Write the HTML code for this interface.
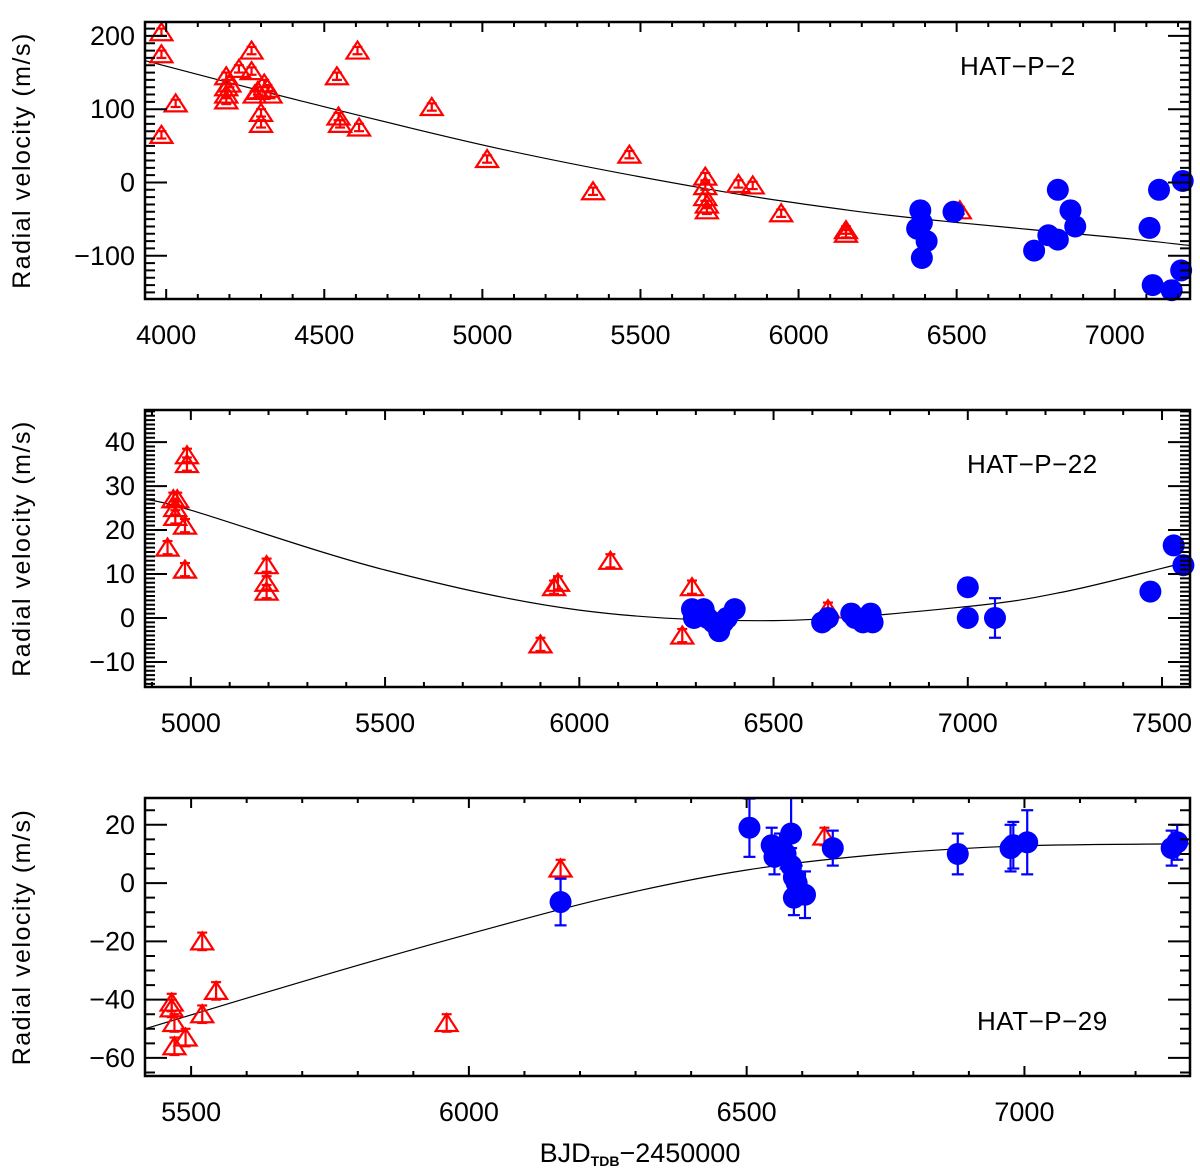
<!DOCTYPE html>
<html><head><meta charset="utf-8">
<style>
html,body{margin:0;padding:0;background:#fff;}
svg{display:block;font-family:"Liberation Sans",sans-serif;}
</style></head>
<body>
<svg id="fig" width="1200" height="1171" viewBox="0 0 1200 1171" xmlns="http://www.w3.org/2000/svg"></svg>
<script>
// ---------- Panel 1: HAT-P-2 ----------
const p1RedX=[3985,3985,3985,4030,4190,4190,4190,4190,4200,4230,4270,4270,4280,4290,4300,4300,4310,4320,4330,4540,4545,4550,4605,4610,4840,5015,5350,5465,5705,5705,5705,5710,5710,5810,5855,5945,6150,6150,6510];
const p1RedY=[205,175,65,108,145,130,120,112,135,155,180,152,120,125,80,95,135,128,120,145,90,80,180,75,103,32,-12,38,8,-5,-20,-30,-38,-2,-4,-42,-65,-70,-38];
const p1BlueX=[6375,6385,6390,6390,6405,6490,6745,6790,6820,6820,6860,6875,7110,7120,7140,7180,7210,7215];
const p1BlueY=[-63,-38,-55,-103,-80,-40,-93,-72,-10,-78,-38,-60,-62,-140,-10,-147,-120,2];
const p1ModelX=[3935,4420,5055,5700,6160,6510,7000,7238];
const p1ModelY=[166,112,46,-8,-38,-55,-75,-86];
const p1XTicks=[4000,4500,5000,5500,6000,6500,7000];
const p1YTicks=[-100,0,100,200];

// ---------- Panel 2: HAT-P-22 ----------
const p2RedX=[4940,4955,4960,4960,4965,4990,4990,4985,4985,5195,5195,5195,5900,5935,5945,6080,6265,6290,6640];
const p2RedY=[16,27,25,23,27,37,35,21,11,12,8,6,-6,7,8,13,-4,7,2];
const p2BlueX=[6290,6295,6310,6320,6330,6345,6360,6370,6380,6400,6625,6640,6700,6710,6730,6740,6750,6755,7000,7000,7070,7470,7530,7555];
const p2BlueY=[2,0,1,2,0,-1,-3,-1,0,2,-1,0,1,0,-1,0,1,-1,7,0,0,6,16.5,12];
const p2BlueErr=[0,0,0,0,0,0,0,0,0,0,0,0,0,0,0,0,0,0,0,0,4.5,0,0,0];
const p2ModelX=[4882,5000,5500,6000,6500,7000,7250,7500,7572];
const p2ModelY=[27,24.5,10.9,1.8,-0.6,2.6,6,11.3,13];
const p2XTicks=[5000,5500,6000,6500,7000,7500];
const p2YTicks=[-10,0,10,20,30,40];

// ---------- Panel 3: HAT-P-29 ----------
const p3RedX=[5465,5465,5470,5470,5490,5520,5520,5545,5960,6165,6640];
const p3RedY=[-41,-43,-48,-56,-53,-20,-45,-37,-48,5,16];
const p3BlueX=[6165,6505,6545,6550,6560,6570,6580,6580,6585,6585,6590,6605,6655,6880,6975,6980,7005,7265,7275];
const p3BlueY=[-6.5,19,13,9,12,10,17,6,2,-5,0,-4,12,10,12,13,14,12,14];
const p3BlueErr=[8,10,6,6,5,5,13,6,6,6,6,8,6,7,8,8,11,6,6];
const p3ModelX=[5417,5750,6000,6250,6500,6750,7000,7298];
const p3ModelY=[-50,-31,-17.5,-5,4.5,10,12.8,13.5];
const p3XTicks=[5500,6000,6500,7000];
const p3YTicks=[-60,-40,-20,0,20];

const svg=document.getElementById('fig');
const NS='http://www.w3.org/2000/svg';
function mk(tag,attrs,parent){const e=document.createElementNS(NS,tag);for(const k in attrs)e.setAttribute(k,attrs[k]);(parent||svg).appendChild(e);return e;}

function smoothPath(P){
  let d='M'+P[0][0].toFixed(1)+','+P[0][1].toFixed(1);
  for(let i=0;i<P.length-1;i++){
    const p0=P[Math.max(0,i-1)],p1=P[i],p2=P[i+1],p3=P[Math.min(P.length-1,i+2)];
    const c1x=p1[0]+(p2[0]-p0[0])/6,c1y=p1[1]+(p2[1]-p0[1])/6;
    const c2x=p2[0]-(p3[0]-p1[0])/6,c2y=p2[1]-(p3[1]-p1[1])/6;
    d+=`C${c1x.toFixed(1)},${c1y.toFixed(1)} ${c2x.toFixed(1)},${c2y.toFixed(1)} ${p2[0].toFixed(1)},${p2[1].toFixed(1)}`;
  }
  return d;
}

function panel(o){
  const g=mk('g',{});
  
  
  const L=145,R=1190,T=o.top,B=o.bottom;
  const sx=v=>L+(v-o.x0)/(o.x1-o.x0)*(R-L);
  const sy=v=>B-(v-o.y0)/(o.y1-o.y0)*(B-T);
  const pts=o.mx.map((v,i)=>[sx(v),sy(o.my[i])]);
  const c=mk('path',{d:smoothPath(pts),fill:'none',stroke:'#000','stroke-width':1.2},g);
  
  
  for(let i=0;i<o.rx.length;i++){
    const x=sx(o.rx[i]),y=sy(o.ry[i]);
    const t=mk('g',{stroke:'#f00','stroke-width':2.2,fill:'none'},g);
    
    
    const e=o.rerr*(B-T)/(o.y1-o.y0);
    mk('polygon',{points:`${x},${y-9} ${x-11},${y+8} ${x+11},${y+8}`},t);
    mk('line',{x1:x,y1:y-e,x2:x,y2:y+e},t);
    mk('line',{x1:x-5,y1:y-e,x2:x+5,y2:y-e},t);
    mk('line',{x1:x-5,y1:y+e,x2:x+5,y2:y+e},t);
  }
  for(let i=0;i<o.bx.length;i++){
    const x=sx(o.bx[i]),y=sy(o.by[i]);
    const b=mk('g',{},g);
    
    
    const err=o.berr?o.berr[i]:0;
    if(err>0){
      const y1=Math.max(T,sy(o.by[i]+err)),y2=Math.min(B,sy(o.by[i]-err));
      mk('line',{x1:x,y1:y1,x2:x,y2:y2,stroke:'#00f','stroke-width':2.2},b);
      if(y1>T)mk('line',{x1:x-6,y1:y1,x2:x+6,y2:y1,stroke:'#00f','stroke-width':2.2},b);
      mk('line',{x1:x-6,y1:y2,x2:x+6,y2:y2,stroke:'#00f','stroke-width':2.2},b);
    }
    mk('circle',{cx:x,cy:y,r:11,fill:'#00f'},b);
  }
  const f=mk('rect',{x:L,y:T,width:R-L,height:B-T,fill:'none',stroke:'#000','stroke-width':2.5},g);
  
  
  let tk='';
  const xs=Math.ceil(o.x0/o.xminor)*o.xminor;
  for(let v=xs;v<=o.x1;v+=o.xminor){
    const x=sx(v),maj=(Math.round(v)%o.xmajor===0),len=maj?10:5;
    tk+=`M${x},${B}v${-len}M${x},${T}v${len}`;
  }
  const ys=Math.ceil(o.y0/o.yminor)*o.yminor;
  for(let v=ys;v<=o.y1+1e-9;v+=o.yminor){
    const vv=Math.round(v*1000)/1000;
    const y=sy(vv),maj=(Math.abs(vv%o.ymajor)<1e-6),len=maj?22:10;
    tk+=`M${L},${y}h${len}M${R},${y}h${-len}`;
  }
  mk('path',{d:tk,stroke:'#000','stroke-width':2,fill:'none'},g);
  o.xt.forEach(v=>{const t=mk('text',{x:sx(v),y:B+45,'text-anchor':'middle','font-size':27},g);t.textContent=v;
    
    });
  o.yt.forEach(v=>{const t=mk('text',{x:L-10,y:sy(v)+9,'text-anchor':'end','font-size':27},g);t.textContent=(v<0?'\u2212'+(-v):v);
    
    });
  const cy=(T+B)/2;
  const yt=mk('text',{x:30,y:cy,'text-anchor':'middle','font-size':25,'letter-spacing':'1.5',transform:`rotate(-90 30 ${cy})`},g);
  yt.textContent='Radial  velocity  (m/s)';
  
  
  const pl=mk('text',{x:o.lx,y:o.ly,'font-size':26,'letter-spacing':'0.5'},g);
  pl.textContent=o.label;
  
  
}

panel({name:'panel-hat-p-2',top:22,bottom:299,x0:3933,x1:7238,y0:-159,y1:219,xminor:100,xmajor:500,yminor:10,ymajor:100,
  rx:p1RedX,ry:p1RedY,bx:p1BlueX,by:p1BlueY,berr:null,rerr:5,mx:p1ModelX,my:p1ModelY,xt:p1XTicks,yt:p1YTicks,
  label:'HAT\u2212P\u22122',lx:960,ly:75});
panel({name:'panel-hat-p-22',top:410,bottom:687,x0:4882,x1:7572,y0:-15.7,y1:47.3,xminor:100,xmajor:500,yminor:1,ymajor:10,
  rx:p2RedX,ry:p2RedY,bx:p2BlueX,by:p2BlueY,berr:p2BlueErr,rerr:1.5,mx:p2ModelX,my:p2ModelY,xt:p2XTicks,yt:p2YTicks,
  label:'HAT\u2212P\u221222',lx:967,ly:473});
panel({name:'panel-hat-p-29',top:798,bottom:1076,x0:5417,x1:7298,y0:-66.2,y1:29.2,xminor:100,xmajor:500,yminor:5,ymajor:20,
  rx:p3RedX,ry:p3RedY,bx:p3BlueX,by:p3BlueY,berr:p3BlueErr,rerr:3,mx:p3ModelX,my:p3ModelY,xt:p3XTicks,yt:p3YTicks,
  label:'HAT\u2212P\u221229',lx:977,ly:1030});

const xt=mk('text',{x:640,y:1162,'text-anchor':'middle','font-size':27});


xt.appendChild(document.createTextNode('BJD'));
const sub=mk('tspan',{'font-size':14,dy:4,'font-weight':'bold'},xt);sub.textContent='TDB';
const rest=mk('tspan',{dy:-4},xt);rest.textContent='\u22122450000';
</script>
</body></html>
